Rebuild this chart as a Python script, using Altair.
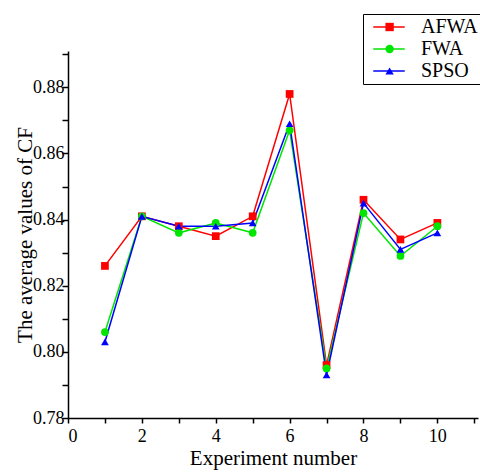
import altair as alt
import pandas as pd

experiments = [1, 2, 3, 4, 5, 6, 7, 8, 9, 10]
afwa = [0.826, 0.841, 0.838, 0.835, 0.841, 0.878, 0.796, 0.846, 0.834, 0.839]
fwa = [0.806, 0.841, 0.836, 0.839, 0.836, 0.867, 0.795, 0.842, 0.829, 0.838]
spso = [0.803, 0.841, 0.838, 0.838, 0.839, 0.869, 0.793, 0.845, 0.831, 0.836]
series = ["AFWA", "FWA", "SPSO"]
colors = ["#ff0000", "#00e600", "#0000ff"]
shapes = ["square", "circle", "triangle-up"]
sizes = [60, 60, 85]

rows = []
for name, vals in zip(series, [afwa, fwa, spso]):
    for e, v in zip(experiments, vals):
        rows.append({"exp": e, "cf": v, "alg": name, "method": name})
df = pd.DataFrame(rows)

font = "Liberation Serif"

x = alt.X("exp:Q", scale=alt.Scale(domain=[0, 11.1], nice=False, zero=False),
          axis=alt.Axis(title="Experiment number", values=list(range(0, 12)),
                        labelExpr="datum.value % 2 == 0 && datum.value <= 10 ? datum.label : ''",
                        grid=False, tickSize=5, labelPadding=4, titlePadding=2))
y = alt.Y("cf:Q", scale=alt.Scale(domain=[0.78, 0.891], nice=False, zero=False),
          axis=alt.Axis(title="The average values of CF",
                        values=[0.78, 0.79, 0.80, 0.81, 0.82, 0.83, 0.84, 0.85, 0.86, 0.87, 0.88, 0.89],
                        format=".2f",
                        labelExpr="round(datum.value*100) % 2 == 0 ? datum.label : ''",
                        grid=False, tickSize=6, labelPadding=-2, titlePadding=-3))

# legend with line segments (from the line layer)
line_legend = alt.Legend(title=None, orient="none", legendX=295, legendY=-37,
                         strokeColor="black", padding=3,
                         symbolType="M-3,0H3", symbolSize=110, symbolStrokeWidth=1.5,
                         symbolOffset=13,
                         labelFontSize=20, labelFont=font, labelColor="black",
                         labelOffset=22, rowPadding=2, symbolOpacity=1)
# legend with markers, overlaid on the first one (no labels of its own)
mark_legend = alt.Legend(title=None, orient="none", legendX=295, legendY=-37,
                         padding=3, symbolSize=70, symbolStrokeWidth=0,
                         symbolOffset=13.6, labelExpr="''",
                         labelFontSize=20, labelFont=font,
                         rowPadding=2, symbolOpacity=1)

stroke_enc = alt.Color("method:N", scale=alt.Scale(range=colors), legend=line_legend)
fill_enc = alt.Fill("alg:N", scale=alt.Scale(range=colors), legend=mark_legend)
shape_enc = alt.Shape("alg:N", scale=alt.Scale(range=shapes), legend=mark_legend)
size_enc = alt.Size("alg:N", scale=alt.Scale(range=sizes), legend=None)

lines = alt.Chart(df).mark_line(strokeWidth=1.5).encode(x=x, y=y, color=stroke_enc)
points = alt.Chart(df).mark_point(filled=True, opacity=1, strokeWidth=0).encode(
    x=x, y=y, fill=fill_enc, shape=shape_enc, size=size_enc,
)

chart = (lines + points).properties(
    width=410, height=367,
    background="white",
    autosize=alt.AutoSizeParams(type="none"),
    padding={"left": 68, "top": 51, "right": 2, "bottom": 54},
).resolve_legend(color="independent", fill="independent", shape="independent").configure_view(stroke=None).configure_axis(
    domainColor="black", tickColor="black", labelColor="black", titleColor="black",
    labelFont=font, titleFont=font, labelFontSize=18, titleFontSize=21,
    titleFontWeight="normal", domainWidth=1.5, tickWidth=1.5,
)

chart.save("out.html", embed_options={"renderer": "svg", "actions": False})
